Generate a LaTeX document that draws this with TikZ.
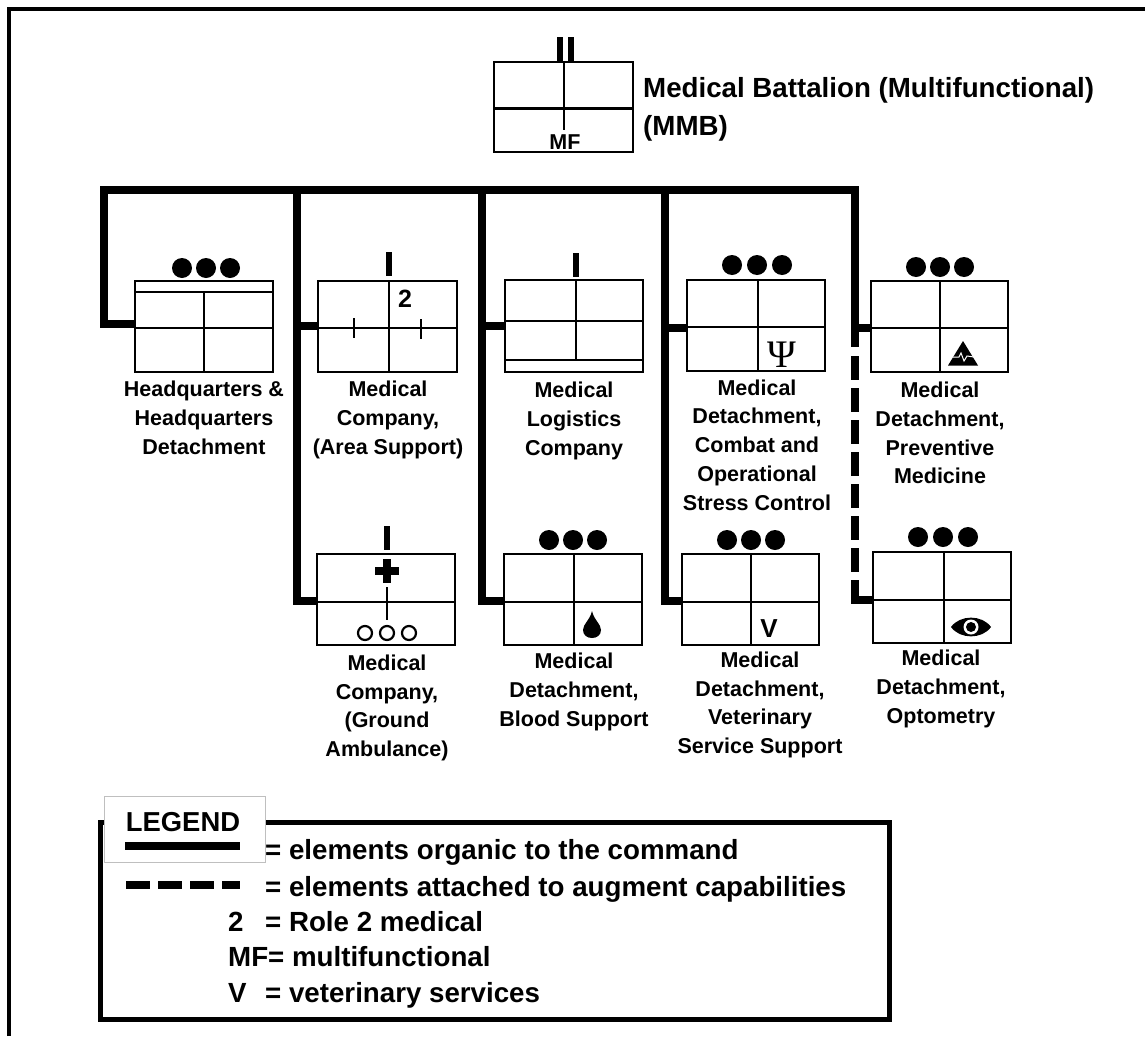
\documentclass[tikz,border=0pt]{standalone}
\usepackage{fontspec}
\setmainfont{Liberation Sans}
\newfontfamily\psifont{Liberation Serif}
\begin{document}
\begin{tikzpicture}[x=1pt,y=-1pt,
  unitbox/.style={draw=black,line width=2.6pt,fill=white,inner sep=0pt,outer sep=0pt},
  inner/.style={draw=black,line width=2.6pt},
  link/.style={draw=black,line width=8pt},
  linkdash/.style={draw=black,line width=8pt,dash pattern=on 24pt off 8pt},
  ech/.style={fill=black,circle,minimum size=20pt,inner sep=0pt},
  bar/.style={draw=black,line width=5.5pt},
  lbl/.style={align=center,font=\bfseries\fontsize{21.5}{28.8}\selectfont,inner sep=0pt},
  leg/.style={anchor=base west,font=\bfseries\fontsize{27.7}{30}\selectfont,inner sep=0pt},
  ttl/.style={anchor=base west,font=\bfseries\fontsize{27.7}{30}\selectfont,inner sep=0pt},
  hole/.style={draw=black,line width=2.2pt,fill=white}]
\useasboundingbox (0,0) rectangle (1145,1036);
\fill[white] (0,0) rectangle (1145,1036);
\draw[draw=black,line width=4pt] (9,1036) -- (9,9) -- (1145,9);
\newcommand{\ubox}[5]{\node[unitbox,minimum width=#4pt-#2pt,minimum height=#5pt-#3pt] (#1) at ({(#2+#4)/2},{(#3+#5)/2}) {};}
\newcommand{\threedots}[4]{\node[ech] (#1a) at (#2,#4) {};\node[ech] (#1b) at (#3,#4) {};\node[ech] (#1c) at ({2*#3-#2},#4) {};}
% MMB
\ubox{mmb}{494}{62}{633}{152}
\draw[inner] (494,108.5) -- (633,108.5);
\draw[inner] (564,62) -- (564,130);
\draw[bar] (560,37) -- (560,62);
\draw[bar] (571,37) -- (571,62);
\node[anchor=center,inner sep=0pt,font=\bfseries\fontsize{21.5}{22}\selectfont] (mf) at (565,142) {MF};
\node[ttl] (t1) at (643,97) {Medical Battalion (Multifunctional)};
\node[ttl] (t2) at (643,135) {(MMB)};
% boxes
\ubox{hq}{135}{281}{273}{372}
\ubox{as}{318}{281}{457}{372}
\ubox{lg}{505}{280}{643}{372}
\ubox{cs}{687}{280}{825}{371}
\ubox{pm}{871}{281}{1008}{372}
\ubox{ga}{317}{554}{455}{645}
\ubox{bs}{504}{554}{642}{645}
\ubox{vs}{682}{554}{819}{645}
\ubox{op}{873}{552}{1011}{643}
% connectors
\coordinate (tl) at (104,190);
\coordinate (j2) at (297,190);
\coordinate (j3) at (482,190);
\coordinate (j4) at (665,190);
\coordinate (j5) at (855,190);
\coordinate (pmj) at (855,328);
\coordinate (pme) at (855,347);
\coordinate (dstart) at (855,356);
\coordinate (opj) at (855,600);
\draw[link,line join=miter] (hq.west |- 0,324) -- (tl |- 0,324) -- (tl) -- (j5) -- (pme);
\draw[link] (j2) -- (297,605);
\draw[link] (297,326) -- (as.west |- 0,326);
\draw[link] (297,601) -- (ga.west |- 0,601);
\draw[link] (j3) -- (482,605);
\draw[link] (482,326) -- (lg.west |- 0,326);
\draw[link] (482,601) -- (bs.west |- 0,601);
\draw[link] (j4) -- (665,605);
\draw[link] (665,328) -- (cs.west |- 0,328);
\draw[link] (665,601) -- (vs.west |- 0,601);
\draw[link] (pmj) -- (pm.west |- pmj);
\draw[linkdash] (dstart) -- (855,604);
\draw[link] (851,600) -- (op.west |- opj);
% HQ
\threedots{hqd}{182}{206}{268}
\draw[inner] (135,292) -- (273,292);
\draw[inner] (135,328) -- (273,328);
\draw[inner] (204,292) -- (204,372);
% AS
\draw[bar] (389,252) -- (389,276);
\draw[inner] (318,328) -- (457,328);
\draw[inner] (389,281) -- (389,372);
\draw[inner] (354,318) -- (354,338);
\draw[inner] (421,319) -- (421,339);
\node[inner sep=0pt,font=\bfseries\fontsize{25}{26}\selectfont] (two) at (405,299) {2};
% LG
\draw[bar] (576,253) -- (576,277);
\draw[inner] (505,321) -- (643,321);
\draw[inner] (505,360) -- (643,360);
\draw[inner] (576,280) -- (576,360);
% CS
\threedots{csd}{732}{757}{265}
\draw[inner] (687,327) -- (825,327);
\draw[inner] (758,280) -- (758,371);
\node[inner sep=0pt,font=\psifont\fontsize{39}{40}\selectfont] (psi) at (782,355) {Ψ};
% PM
\threedots{pmd}{916}{940}{267}
\draw[inner] (871,328) -- (1008,328);
\draw[inner] (940,281) -- (940,372);
\fill[black] (963,341) -- (978,365.5) -- (948,365.5) -- cycle;
\draw[white,line width=1pt] (953,357) -- (959,357) -- (961,353) -- (964,361) -- (967,356) -- (974,357);
% GA
\draw[bar] (387,526) -- (387,550);
\draw[inner] (317,602) -- (455,602);
\draw[inner] (387,587) -- (387,620);
\fill[black] (383,559) rectangle (391,583);
\fill[black] (375,567) rectangle (399,575);
\foreach \cx in {365,387,409} \draw[hole] (\cx,633) circle (7);
% BS
\threedots{bsd}{549}{573}{540}
\draw[inner] (504,602) -- (642,602);
\draw[inner] (574,554) -- (574,645);
\fill[black] (592,611) .. controls (594,620) and (601,624) .. (601,630) .. controls (601,635) and (597,638) .. (592,638) .. controls (587,638) and (583,635) .. (583,630) .. controls (583,624) and (590,620) .. (592,611) -- cycle;
% VS
\threedots{vsd}{727}{751}{540}
\draw[inner] (682,602) -- (819,602);
\draw[inner] (751,554) -- (751,645);
\node[inner sep=0pt,font=\bfseries\fontsize{26}{27}\selectfont] (vv) at (769,629) {V};
% OP
\threedots{opd}{918}{943}{537}
\draw[inner] (873,600) -- (1011,600);
\draw[inner] (944,552) -- (944,643);
\fill[black] (951,627) .. controls (960,614.5) and (982,614.5) .. (991,627) .. controls (982,639.5) and (960,639.5) .. (951,627) -- cycle;
\fill[white] (971,627) circle (7.5);
\fill[black] (971,627) circle (5);
% labels
\node[lbl] (l1) at (204,418) {Headquarters \&\\Headquarters\\Detachment};
\node[lbl] (l2) at (388,420) {Medical\\Company,\\(Area Support)};
\node[lbl] (l3) at (574,421) {Medical\\Logistics\\Company};
\node[lbl] (l4) at (757,445) {Medical\\Detachment,\\Combat and\\Operational\\Stress Control};
\node[lbl] (l5) at (940,433) {Medical\\Detachment,\\Preventive\\Medicine};
\node[lbl] (l6) at (387,708) {Medical\\Company,\\(Ground\\Ambulance)};
\node[lbl] (l7) at (574,692) {Medical\\Detachment,\\Blood Support};
\node[lbl] (l8) at (760,705) {Medical\\Detachment,\\Veterinary\\Service Support};
\node[lbl] (l9) at (941,689) {Medical\\Detachment,\\Optometry};
% legend
\node[draw=black,line width=5pt,minimum width=789pt,minimum height=197pt,inner sep=0pt] (lgd) at (495,920.5) {};
\node[draw=black!25,line width=1pt,fill=white,minimum width=161pt,minimum height=66pt,inner sep=0pt] (lgt) at (184.5,829) {};
\node[inner sep=0pt,font=\bfseries\fontsize{27.4}{30}\selectfont] (lgn) at (183,822) {LEGEND};
\coordinate (a1) at (125,846);
\coordinate (a2) at (240,846);
\coordinate (b1) at (126,885);
\coordinate (b2) at (240,885);
\draw[draw=black,line width=8pt] (a1) -- (a2);
\draw[draw=black,line width=8pt,dash pattern=on 24pt off 8pt] (b1) -- (b2);
\node[leg] (e1) at (265,859) {= elements organic to the command};
\node[leg] (e2) at (265,896) {= elements attached to augment capabilities};
\node[leg] (e3a) at (228,931) {2};
\node[leg] (e3) at (265,931) {= Role 2 medical};
\node[leg] (e4) at (228,966) {MF= multifunctional};
\node[leg] (e5a) at (228,1002) {V};
\node[leg] (e5) at (265,1002) {= veterinary services};
\end{tikzpicture}
\end{document}
